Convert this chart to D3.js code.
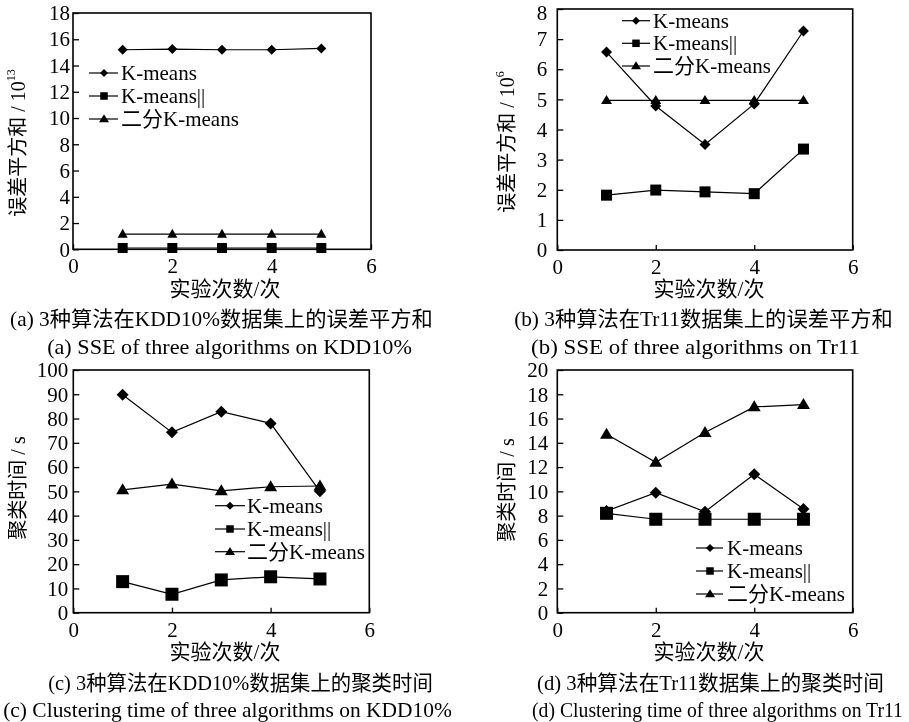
<!DOCTYPE html>
<html><head><meta charset="utf-8">
<script src="https://cdn.jsdelivr.net/npm/d3@7"></script>
<style>
body{margin:0;background:#fff;}
#chart{will-change:transform;}
</style></head>
<body>
<svg id="chart" width="909" height="722"></svg>
<script>
// ---------- data ----------
const runs = [1, 2, 3, 4, 5];
const xTicks = [0, 2, 4, 6];
const seriesNames = ["K-means", "K-means||", "二分K-means"];

const sseKDD_kmeans    = [15.2, 15.25, 15.2, 15.2, 15.3];
const sseKDD_kmeansPar = [0.1, 0.1, 0.1, 0.1, 0.1];
const sseKDD_bisect    = [1.15, 1.15, 1.15, 1.15, 1.15];

const sseTr11_kmeans    = [6.57, 4.78, 3.5, 4.85, 7.27];
const sseTr11_kmeansPar = [1.82, 1.99, 1.93, 1.87, 3.35];
const sseTr11_bisect    = [4.97, 4.97, 4.97, 4.97, 4.97];

const timeKDD_kmeans    = [89.8, 74.3, 82.8, 78.0, 50.0];
const timeKDD_kmeansPar = [12.8, 7.6, 13.5, 14.8, 13.9];
const timeKDD_bisect    = [50.6, 53.0, 50.2, 51.9, 52.2];

const timeTr11_kmeans    = [8.38, 9.89, 8.32, 11.4, 8.55];
const timeTr11_kmeansPar = [8.19, 7.7, 7.7, 7.7, 7.7];
const timeTr11_bisect    = [14.7, 12.4, 14.85, 16.96, 17.15];

const yTicksA = d3.range(0, 19, 2);
const yTicksB = d3.range(0, 9, 1);
const yTicksC = d3.range(0, 101, 10);
const yTicksD = d3.range(0, 21, 2);

const xLabel = "实验次数/次";
const yLabelSSE = "误差平方和 / 10";
const yLabelTime = "聚类时间 / s";
const captionsCN = ["(a) 3种算法在KDD10%数据集上的误差平方和", "(b) 3种算法在Tr11数据集上的误差平方和",
                    "(c) 3种算法在KDD10%数据集上的聚类时间", "(d) 3种算法在Tr11数据集上的聚类时间"];
const captionsEN = ["(a) SSE of three algorithms on KDD10%", "(b) SSE of three algorithms on Tr11",
                    "(c) Clustering time of three algorithms on KDD10%", "(d) Clustering time of three algorithms on Tr11"];

// ---------- layout ----------
const FONT = "'Liberation Serif', 'Times New Roman', Tinos, 'Noto Sans CJK SC', serif";
const svg = d3.select("#chart").attr("font-family", FONT);
const panels = [
  {x0:73, x1:371, y0:13, y1:249.3, ymax:18, ticks:yTicksA, series:[sseKDD_kmeans, sseKDD_kmeansPar, sseKDD_bisect],
   labPad:3, ylab:yLabelSSE, sup:"13", ylx:18, yly:143, ms:[5,10,[10,9]],
   leg:{lx0:89, lx1:118, mx:104, tx:121, rows:[73,96,119]},
   xl:{x:225, y:289}, cn:{x:221.5, y:319, len:423}, en:{x:229.5, y:347, len:365}},
  {x0:557.3, x1:852.7, y0:9, y1:250, ymax:8, ticks:yTicksB, series:[sseTr11_kmeans, sseTr11_kmeansPar, sseTr11_bisect],
   labPad:10, ylab:yLabelSSE, sup:"6", ylx:507, yly:142, ms:[5.5,11,[11,9]],
   leg:{lx0:622, lx1:650, mx:636, tx:653, rows:[20.7,43.3,66]},
   xl:{x:709, y:289}, cn:{x:703.5, y:319, len:379}, en:{x:695.5, y:347, len:329}},
  {x0:73.3, x1:369.3, y0:370, y1:612.7, ymax:100, ticks:yTicksC, series:[timeKDD_kmeans, timeKDD_kmeansPar, timeKDD_bisect],
   labPad:5, ylab:yLabelTime, sup:null, ylx:18, yly:488, ms:[6,13,[13,11]],
   leg:{lx0:215, lx1:245, mx:230, tx:247, rows:[505.7,529,551.7]},
   xl:{x:225, y:652}, cn:{x:240.5, y:683, len:385}, en:{x:227.5, y:710, len:449}},
  {x0:557.3, x1:852.7, y0:370, y1:612.7, ymax:20, ticks:yTicksD, series:[timeTr11_kmeans, timeTr11_kmeansPar, timeTr11_bisect],
   labPad:9, ylab:yLabelTime, sup:null, ylx:507, yly:490, ms:[6,13,[13,11]],
   leg:{lx0:696, lx1:723, mx:710, tx:727, rows:[548,571,594]},
   xl:{x:709, y:652}, cn:{x:710.5, y:683, len:347}, en:{x:717.5, y:710, len:371}}
];

function marker(g, type, cx, cy, size){
  if(type===0){ // diamond
    const h=size;
    g.append("path").attr("d",`M${cx},${cy-h}L${cx+h},${cy}L${cx},${cy+h}L${cx-h},${cy}Z`).attr("fill","#000");
  } else if(type===1){
    g.append("rect").attr("x",cx-size/2).attr("y",cy-size/2).attr("width",size).attr("height",size).attr("fill","#000");
  } else {
    const w=size[0], h=size[1];
    g.append("path").attr("d",`M${cx},${cy-h*0.6}L${cx+w/2},${cy+h*0.4}L${cx-w/2},${cy+h*0.4}Z`).attr("fill","#000");
  }
}

function txt(g){ return g.append("text").attr("font-family", FONT).attr("fill","#000"); }

// caption fitted to a target width by horizontal scaling
function fitted(g, s, cx, cy, len){
  const t = txt(g).attr("x",0).attr("y",0).attr("text-anchor","middle").attr("dominant-baseline","central")
    .attr("font-size",21).text(s);
  const w = t.node().getComputedTextLength();
  t.attr("transform",`translate(${cx},${cy}) scale(${len/w},1)`);
}

panels.forEach((p,pi)=>{
  const g = svg.append("g");
  const x = d3.scaleLinear().domain([0,6]).range([p.x0,p.x1]);
  const y = d3.scaleLinear().domain([0,p.ymax]).range([p.y1,p.y0]);

  // axes
  const ax = g.append("g").attr("transform",`translate(${p.x0},0)`)
    .call(d3.axisLeft(y).tickValues(p.ticks).tickSize(-6).tickPadding(p.labPad).tickFormat(d3.format("d")))
    .attr("font-family", FONT).attr("font-size", 21);
  ax.select(".domain").remove();
  ax.selectAll("line").attr("stroke","#000").attr("stroke-width",1.3);
  ax.selectAll("text").attr("fill","#000");
  // keep the topmost tick label inside the picture
  ax.selectAll(".tick text").each(function(){
    const bb = this.getBoundingClientRect();
    if(bb.top < 0.5){ d3.select(this).attr("y", (+d3.select(this).attr("y")||0) + (0.5 - bb.top)); }
  });
  const bx = g.append("g").attr("transform",`translate(0,${p.y1})`)
    .call(d3.axisBottom(x).tickValues(xTicks).tickSize(-5).tickPadding(9).tickFormat(d3.format("d")))
    .attr("font-family", FONT).attr("font-size", 21);
  bx.select(".domain").remove();
  bx.selectAll("line").attr("stroke","#000").attr("stroke-width",1.3);
  bx.selectAll("text").attr("fill","#000");

  g.append("rect").attr("x",p.x0).attr("y",p.y0).attr("width",p.x1-p.x0).attr("height",p.y1-p.y0)
    .attr("fill","none").attr("stroke","#000").attr("stroke-width",1.6);

  // series
  const line = d3.line().x((d,i)=>x(runs[i])).y(d=>y(d));
  p.series.forEach((vals,si)=>{
    g.append("path").datum(vals).attr("d",line).attr("fill","none").attr("stroke","#000").attr("stroke-width",1.2);
  });
  p.series.forEach((vals,si)=>{
    vals.forEach((v,i)=>marker(g, si, x(runs[i]), y(v), p.ms[si]));
  });

  // legend
  seriesNames.forEach((name,si)=>{
    const ry = p.leg.rows[si];
    g.append("line").attr("x1",p.leg.lx0).attr("x2",p.leg.lx1).attr("y1",ry).attr("y2",ry)
      .attr("stroke","#000").attr("stroke-width",1.2);
    marker(g, si, p.leg.mx, ry, si===0?4:(si===1?7.5:[10,8]));
    txt(g).attr("x",p.leg.tx).attr("y",ry).attr("dominant-baseline","central")
      .attr("font-size",21).text(name);
  });

  // y label
  const yl = txt(g).attr("transform",`translate(${p.ylx},${p.yly}) rotate(-90)`)
    .attr("text-anchor","middle").attr("dominant-baseline","central").attr("font-size",20);
  yl.append("tspan").text(p.ylab);
  if(p.sup){ yl.append("tspan").attr("dy",-7).attr("font-size",12).text(p.sup); }

  // x label and captions
  txt(g).attr("x",p.xl.x).attr("y",p.xl.y).attr("text-anchor","middle").attr("dominant-baseline","central")
    .attr("font-size",21).text(xLabel);
  fitted(g, captionsCN[pi], p.cn.x, p.cn.y, p.cn.len);
  fitted(g, captionsEN[pi], p.en.x, p.en.y, p.en.len);
});
</script>
</body></html>
